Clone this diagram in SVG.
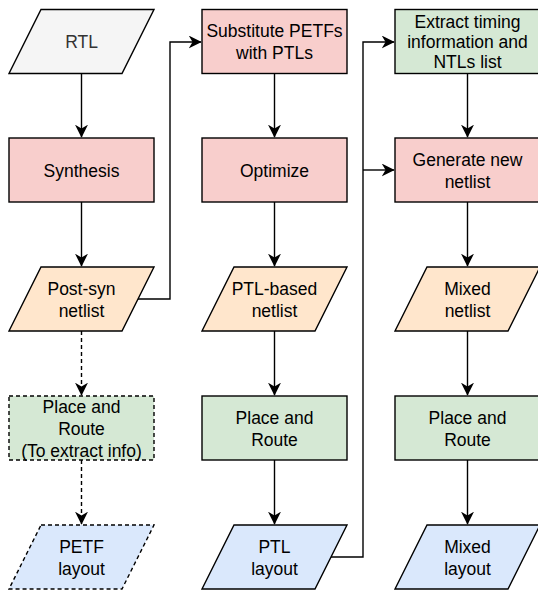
<svg xmlns="http://www.w3.org/2000/svg" width="538" height="591" viewBox="0 0 538 591">
<defs>
<marker id="arr" viewBox="0 0 10 10" refX="9.5" refY="5" markerWidth="13" markerHeight="13" markerUnits="userSpaceOnUse" orient="auto">
<path d="M0,0 L10,5 L0,10 L3,5 Z" fill="#000"/>
</marker>
<style>
.n{stroke:#000;stroke-width:1.4}
.pink{fill:#f8cecc}.green{fill:#d5e8d4}.orange{fill:#ffe6cc}.blue{fill:#dae8fc}.gray{fill:#f5f5f5}
.dash{stroke-dasharray:4 3}
text{font-family:"Liberation Sans",Arial,sans-serif;font-size:17.5px;fill:#000;text-anchor:middle}
.c{fill:none;stroke:#000;stroke-width:1.4}
</style>
</defs>
<g id="connectors">
<path class="c" d="M81.5,73.5 V137" marker-end="url(#arr)"/>
<path class="c" d="M81.5,202 V266" marker-end="url(#arr)"/>
<path class="c dash" d="M81.5,331 V395" marker-end="url(#arr)"/>
<path class="c dash" d="M81.5,460 V524" marker-end="url(#arr)"/>
<path class="c" d="M138,299 H170 V42 H201" marker-end="url(#arr)"/>
<path class="c" d="M274.5,73.5 V137" marker-end="url(#arr)"/>
<path class="c" d="M274.5,202 V266" marker-end="url(#arr)"/>
<path class="c" d="M274.5,331 V395" marker-end="url(#arr)"/>
<path class="c" d="M274.5,460 V524" marker-end="url(#arr)"/>
<path class="c" d="M331,557 H363 V42 H394" marker-end="url(#arr)"/>
<path class="c" d="M363,170 H394" marker-end="url(#arr)"/>
<path class="c" d="M467.5,73.5 V137" marker-end="url(#arr)"/>
<path class="c" d="M467.5,202 V266" marker-end="url(#arr)"/>
<path class="c" d="M467.5,331 V395" marker-end="url(#arr)"/>
<path class="c" d="M467.5,460 V524" marker-end="url(#arr)"/>
</g>
<g id="rtl"><path class="n gray" d="M41,9.5 H154 L122,73.5 H9 Z"/><text x="81.5" y="47.5" style="fill:#333">RTL</text></g>
<g id="synthesis"><rect class="n pink" x="9" y="138" width="145" height="64"/><text x="81.5" y="176.5">Synthesis</text></g>
<g id="postsyn"><path class="n orange" d="M41,267 H154 L122,331 H9 Z"/><text x="81.5" y="295">Post-syn</text><text x="81.5" y="317">netlist</text></g>
<g id="pr1"><rect class="n green dash" x="9" y="396" width="145" height="64"/><text x="81.5" y="413">Place and</text><text x="81.5" y="435">Route</text><text x="81.5" y="457">(To extract info)</text></g>
<g id="petf"><path class="n blue dash" d="M41,525 H154 L122,589 H9 Z"/><text x="81.5" y="553">PETF</text><text x="81.5" y="575">layout</text></g>
<g id="substitute"><rect class="n pink" x="202" y="9.5" width="145" height="64"/><text x="274.5" y="37">Substitute PETFs</text><text x="274.5" y="59">with PTLs</text></g>
<g id="optimize"><rect class="n pink" x="202" y="138" width="145" height="64"/><text x="274.5" y="176.5">Optimize</text></g>
<g id="ptlnet"><path class="n orange" d="M234,267 H347 L315,331 H202 Z"/><text x="274.5" y="295">PTL-based</text><text x="274.5" y="317">netlist</text></g>
<g id="pr2"><rect class="n green" x="202" y="396" width="145" height="64"/><text x="274.5" y="424">Place and</text><text x="274.5" y="446">Route</text></g>
<g id="ptllayout"><path class="n blue" d="M234,525 H347 L315,589 H202 Z"/><text x="274.5" y="553">PTL</text><text x="274.5" y="575">layout</text></g>
<g id="extract"><rect class="n green" x="395" y="9.5" width="145" height="64"/><text x="467.5" y="27.5">Extract timing</text><text x="467.5" y="47.5">information and</text><text x="467.5" y="67.5">NTLs list</text></g>
<g id="generate"><rect class="n pink" x="395" y="138" width="145" height="64"/><text x="467.5" y="165.5">Generate new</text><text x="467.5" y="187.5">netlist</text></g>
<g id="mixednet"><path class="n orange" d="M427,267 H540 L508,331 H395 Z"/><text x="467.5" y="295">Mixed</text><text x="467.5" y="317">netlist</text></g>
<g id="pr3"><rect class="n green" x="395" y="396" width="145" height="64"/><text x="467.5" y="424">Place and</text><text x="467.5" y="446">Route</text></g>
<g id="mixedlayout"><path class="n blue" d="M427,525 H540 L508,589 H395 Z"/><text x="467.5" y="553">Mixed</text><text x="467.5" y="575">layout</text></g>
</svg>
